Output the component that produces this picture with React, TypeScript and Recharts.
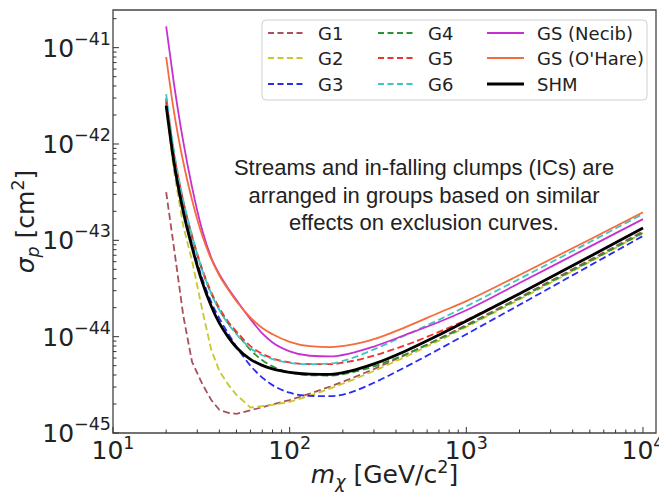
import { LineChart, Line, XAxis, YAxis, CartesianGrid, ReferenceArea } from "recharts";

// WIMP mass grid [GeV/c^2] shared by every curve
const masses = [20, 22, 25, 28, 32, 36, 40, 45, 50, 60, 70, 80, 100, 130, 170, 220, 300, 450, 700, 1000, 2000, 5000, 10000];

// cross-section limits [cm^2], one array per halo model
const g1 = [3.16e-43, 9.1e-44, 1.65e-44, 5.5e-45, 3.24e-45, 2.2e-45, 1.74e-45, 1.62e-45, 1.58e-45, 1.72e-45, 1.85e-45, 1.98e-45, 2.2e-45, 2.56e-45, 3.04e-45, 3.64e-45, 4.61e-45, 6.44e-45, 9.5e-45, 1.32e-44, 2.55e-44, 6.25e-44, 1.24e-43];
const g2 = [2.45e-42, 5.6e-43, 1.4e-43, 6.2e-44, 1.9e-44, 7.3e-45, 4.4e-45, 3.16e-45, 2.49e-45, 1.84e-45, 1.9e-45, 1.96e-45, 2.1e-45, 2.44e-45, 2.9e-45, 3.48e-45, 4.4e-45, 6.15e-45, 9.08e-45, 1.26e-44, 2.43e-44, 5.97e-44, 1.19e-43];
const g3 = [2.7e-42, 7.45e-43, 2.13e-43, 9.2e-44, 4.02e-44, 2.28e-44, 1.55e-44, 1.07e-44, 7.88e-45, 5.0e-45, 3.76e-45, 3.14e-45, 2.62e-45, 2.43e-45, 2.41e-45, 2.63e-45, 3.32e-45, 4.82e-45, 7.4e-45, 1.06e-44, 2.14e-44, 5.46e-44, 1.11e-43];
const g4 = [2.9e-42, 8.24e-43, 2.45e-43, 1.08e-43, 4.86e-44, 2.79e-44, 1.91e-44, 1.37e-44, 1.09e-44, 7.29e-45, 5.7e-45, 4.92e-45, 4.26e-45, 3.98e-45, 3.95e-45, 4.22e-45, 4.92e-45, 6.53e-45, 9.39e-45, 1.29e-44, 2.5e-44, 6.08e-44, 1.2e-43];
const g5 = [3.0e-42, 8.53e-43, 2.54e-43, 1.12e-43, 5.04e-44, 2.89e-44, 1.98e-44, 1.42e-44, 1.13e-44, 7.98e-45, 6.64e-45, 5.97e-45, 5.4e-45, 5.19e-45, 5.19e-45, 5.53e-45, 6.36e-45, 8.13e-45, 1.12e-44, 1.49e-44, 2.81e-44, 6.78e-44, 1.34e-43];
const g6 = [3.3e-42, 9.12e-43, 2.61e-43, 1.13e-43, 4.92e-44, 2.79e-44, 1.89e-44, 1.35e-44, 1.06e-44, 7.6e-45, 6.42e-45, 5.85e-45, 5.35e-45, 5.19e-45, 5.26e-45, 5.9e-45, 7.38e-45, 1.03e-44, 1.5e-44, 2.07e-44, 3.98e-44, 9.6e-44, 1.88e-43];
const gsNecib = [1.66e-41, 4.58e-42, 1.05e-42, 3.59e-43, 1.27e-43, 6.6e-44, 4.45e-44, 3.15e-44, 2.4e-44, 1.52e-44, 1.08e-44, 8.7e-45, 7.05e-45, 6.34e-45, 6.24e-45, 6.7e-45, 7.9e-45, 1.04e-44, 1.42e-44, 1.88e-44, 3.6e-44, 8.6e-44, 1.66e-43];
const gsOHare = [8.0e-42, 2.32e-42, 6.46e-43, 2.64e-43, 1.12e-43, 6.37e-44, 4.32e-44, 3.07e-44, 2.33e-44, 1.58e-44, 1.23e-44, 1.06e-44, 8.85e-45, 7.96e-45, 7.8e-45, 8.2e-45, 9.43e-45, 1.25e-44, 1.77e-44, 2.34e-44, 4.37e-44, 1.02e-43, 1.96e-43];
const shm = [2.5e-42, 6.9e-43, 1.97e-43, 8.53e-44, 3.68e-44, 2.07e-44, 1.38e-44, 9.84e-45, 7.73e-45, 5.82e-45, 5.03e-45, 4.63e-45, 4.26e-45, 4.09e-45, 4.06e-45, 4.39e-45, 5.21e-45, 7.06e-45, 1.04e-44, 1.45e-44, 2.79e-44, 6.79e-44, 1.34e-43];

const xDomain = [10, 11850];
const yDomain = [1e-45, 2.46e-41];

const DASH = "7 3.5";

type Series = {
  key: string;
  values: number[];
  color: string;
  dashed: boolean;
  width: number;
  curve: "linear" | "monotone";
};

const series: Series[] = [
  { key: "G1", values: g1, color: "#a8505c", dashed: true, width: 1.8, curve: "linear" },
  { key: "G2", values: g2, color: "#c8c830", dashed: true, width: 1.8, curve: "linear" },
  { key: "G3", values: g3, color: "#2b2bf0", dashed: true, width: 1.8, curve: "monotone" },
  { key: "G4", values: g4, color: "#2a9432", dashed: true, width: 1.8, curve: "monotone" },
  { key: "G5", values: g5, color: "#f03232", dashed: true, width: 1.8, curve: "monotone" },
  { key: "G6", values: g6, color: "#3cc8c0", dashed: true, width: 1.8, curve: "monotone" },
  { key: "GS (Necib)", values: gsNecib, color: "#c82fd2", dashed: false, width: 1.8, curve: "monotone" },
  { key: "GS (O'Hare)", values: gsOHare, color: "#f56b3b", dashed: false, width: 1.8, curve: "monotone" },
  { key: "SHM", values: shm, color: "#000000", dashed: false, width: 2.8, curve: "monotone" },
];

const rows = masses.map((m, i) => {
  const row: Record<string, number> = { m };
  series.forEach((s) => (row[s.key] = s.values[i]));
  return row;
});

// decade ticks get a label and a grid line, the rest are minor ticks
function logTicks(lo: number, hi: number) {
  const out: number[] = [];
  for (let e = Math.floor(Math.log10(lo)); e <= Math.ceil(Math.log10(hi)); e++) {
    for (let k = 1; k <= 9; k++) {
      const v = k * Math.pow(10, e);
      if (v >= lo * 0.999 && v <= hi * 1.001) out.push(v);
    }
  }
  return out;
}
const xTicks = logTicks(xDomain[0], xDomain[1]);
const yTicks = logTicks(yDomain[0], yDomain[1]);

const isDecade = (v: number) => Math.abs(Math.log10(v) - Math.round(Math.log10(v))) < 0.01;
const xDecades = xTicks.filter(isDecade);
const yDecades = yTicks.filter(isDecade);
const expText = (v: number) => String(Math.round(Math.log10(v))).replace("-", "\u2212");

const FONT = "'DejaVu Sans', sans-serif";
const TICK_COLOR = "#333";

function XTick(props: any) {
  const { x, y, payload } = props;
  const major = isDecade(payload.value);
  return (
    <g>
      <line x1={x} x2={x} y1={y} y2={y - (major ? 6 : 3.5)} stroke={TICK_COLOR} strokeWidth={1} />
      {major && (
        <text x={x} y={y + 26} textAnchor="middle" fontFamily={FONT} fontSize={25} fill="#222">
          10
          <tspan dy={-10} fontSize={17.5}>
            {expText(payload.value)}
          </tspan>
        </text>
      )}
    </g>
  );
}

function YTick(props: any) {
  const { x, y, payload } = props;
  const major = isDecade(payload.value);
  return (
    <g>
      <line x1={x} x2={x + (major ? 6 : 3.5)} y1={y} y2={y} stroke={TICK_COLOR} strokeWidth={1} />
      {major && (
        <text x={x - 2} y={y + 9} textAnchor="end" fontFamily={FONT} fontSize={25} fill="#222">
          10
          <tspan dy={-12} fontSize={17.5}>
            {expText(payload.value)}
          </tspan>
        </text>
      )}
    </g>
  );
}

function XLabel(props: any) {
  const { x, y, width } = props.viewBox;
  return (
    <text x={x + width / 2} y={y + 50} textAnchor="middle" fontFamily={FONT} fontSize={25} fill="#222">
      <tspan fontStyle="italic">m</tspan>
      <tspan fontStyle="italic" fontSize={17.5} dy={5}>
        χ
      </tspan>
      <tspan dy={-5}> [GeV/c</tspan>
      <tspan fontSize={17.5} dy={-10}>
        2
      </tspan>
      <tspan dy={10}>]</tspan>
    </text>
  );
}

function YLabel(props: any) {
  const { y, height } = props.viewBox;
  const cx = 34;
  const cy = y + height / 2;
  return (
    <text
      x={cx}
      y={cy}
      transform={`rotate(-90 ${cx} ${cy})`}
      textAnchor="middle"
      fontFamily={FONT}
      fontSize={25}
      fill="#222"
    >
      <tspan fontStyle="italic">σ</tspan>
      <tspan fontStyle="italic" fontSize={17.5} dy={5}>
        p
      </tspan>
      <tspan dy={-5}> [cm</tspan>
      <tspan fontSize={17.5} dy={-10}>
        2
      </tspan>
      <tspan dy={10}>]</tspan>
    </text>
  );
}

// legend: three columns of three entries
const legendCols = [6, 116, 225];
const legendRows = [13, 38, 64];

function LegendBox() {
  return (
    <g transform="translate(262 20)">
      <rect x={0} y={0} width={385} height={80} rx={4} fill="rgba(255,255,255,0.85)" stroke="#d0d0d0" />
      {series.map((s, i) => {
        const col = Math.floor(i / 3);
        const row = i % 3;
        const lx = legendCols[col];
        const ly = legendRows[row];
        return (
          <g key={s.key}>
            <line
              x1={lx}
              x2={lx + 37}
              y1={ly}
              y2={ly}
              stroke={s.color}
              strokeWidth={s.width + 0.2}
              strokeDasharray={s.dashed ? "6 3.5" : undefined}
            />
            <text x={lx + 50} y={ly + 6.5} fontFamily={FONT} fontSize={18} fill="#222">
              {s.key}
            </text>
          </g>
        );
      })}
    </g>
  );
}

const noteLines = [
  "Streams and in-falling clumps (ICs) are",
  "arranged in groups based on similar",
  "effects on exclusion curves.",
];

export default function App() {
  return (
    <div style={{ position: "absolute", left: 0, top: 0, width: 659, height: 494, background: "#fff" }}>
      <LineChart width={659} height={494} data={rows} margin={{ top: 10, right: 3, bottom: 0, left: 0 }}>
        <CartesianGrid
          stroke="#e2e2e2"
          strokeWidth={1}
          verticalCoordinatesGenerator={({ xAxis }: any) =>
            xAxis && typeof xAxis.scale === "function" ? xDecades.map((v) => xAxis.scale(v)) : []
          }
          horizontalCoordinatesGenerator={({ yAxis }: any) =>
            yAxis && typeof yAxis.scale === "function" ? yDecades.map((v) => yAxis.scale(v)) : []
          }
        />
        <XAxis
          dataKey="m"
          type="number"
          scale="log"
          domain={xDomain}
          allowDataOverflow
          ticks={xTicks}
          interval={0}
          tickSize={0}
          tickMargin={0}
          axisLine={false}
          tickLine={false}
          tick={<XTick />}
          height={61}
          label={{ content: <XLabel /> }}
        />
        <YAxis
          type="number"
          scale="log"
          domain={yDomain}
          allowDataOverflow
          ticks={yTicks}
          interval={0}
          tickSize={0}
          tickMargin={0}
          axisLine={false}
          tickLine={false}
          tick={<YTick />}
          width={113}
          label={{ content: <YLabel /> }}
        />
        {series.map((s) => (
          <Line
            key={s.key}
            dataKey={s.key}
            type={s.curve}
            stroke={s.color}
            strokeWidth={s.width}
            strokeDasharray={s.dashed ? DASH : undefined}
            dot={false}
            activeDot={false}
            isAnimationActive={false}
          />
        ))}
        <ReferenceArea
          x1={xDomain[0]}
          x2={xDomain[1]}
          y1={yDomain[0]}
          y2={yDomain[1]}
          fill="none"
          fillOpacity={0}
          stroke="#444"
          strokeWidth={1.3}
          ifOverflow="visible"
        />
      </LineChart>
      <svg width={659} height={494} style={{ position: "absolute", left: 0, top: 0, pointerEvents: "none" }}>
        <LegendBox />
        {noteLines.map((t, i) => (
          <text
            key={i}
            x={424}
            y={175 + i * 27.5}
            textAnchor="middle"
            fontFamily="'Liberation Sans', Arial, sans-serif"
            fontSize={22}
            fill="#222"
          >
            {t}
          </text>
        ))}
      </svg>
    </div>
  );
}
